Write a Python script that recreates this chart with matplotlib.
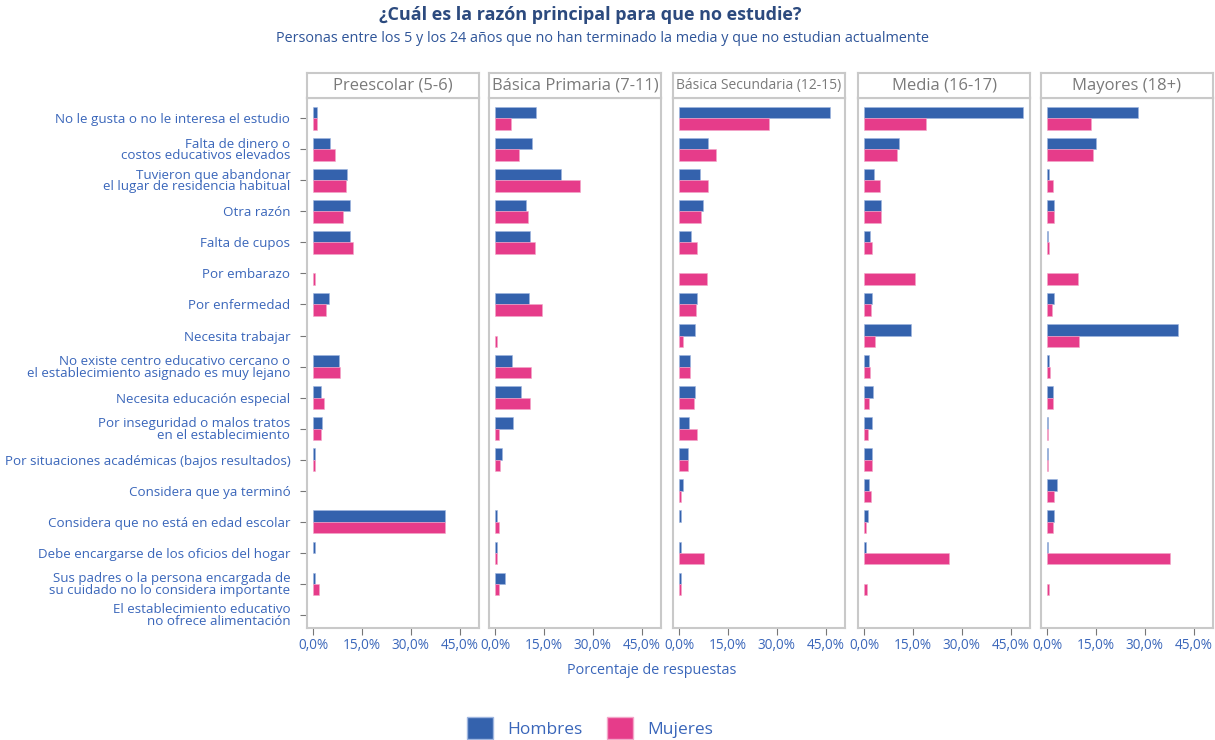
import matplotlib
matplotlib.use("Agg")
import matplotlib.pyplot as plt
import numpy as np
from matplotlib.patches import Patch

plt.rcParams['font.family'] = ['Open Sans', 'DejaVu Sans']

reasons = [
    "No le gusta o no le interesa el estudio",
    "Falta de dinero o\ncostos educativos elevados",
    "Tuvieron que abandonar\nel lugar de residencia habitual",
    "Otra razón",
    "Falta de cupos",
    "Por embarazo",
    "Por enfermedad",
    "Necesita trabajar",
    "No existe centro educativo cercano o\nel establecimiento asignado es muy lejano",
    "Necesita educación especial",
    "Por inseguridad o malos tratos\nen el establecimiento",
    "Por situaciones académicas (bajos resultados)",
    "Considera que ya terminó",
    "Considera que no está en edad escolar",
    "Debe encargarse de los oficios del hogar",
    "Sus padres o la persona encargada de\nsu cuidado no lo considera importante",
    "El establecimiento educativo\nno ofrece alimentación",
]
groups = ["Preescolar (5-6)", "Básica Primaria (7-11)", "Básica Secundaria (12-15)",
          "Media (16-17)", "Mayores (18+)"]

hombres_pre = [1.2, 5.1, 10.2, 11.4, 11.4, 0, 4.8, 0, 7.8, 2.3, 2.5, 0.4, 0, 40.6, 0.6, 0.6, 0]
mujeres_pre = [1.2, 6.5, 10.1, 9.0, 12.2, 0.4, 3.9, 0, 8.1, 3.1, 2.2, 0.4, 0, 40.5, 0, 1.6, 0]
hombres_pri = [12.5, 11.2, 20.1, 9.5, 10.7, 0, 10.4, 0, 5.1, 8.0, 5.4, 2.1, 0, 0.4, 0.4, 2.8, 0]
mujeres_pri = [4.8, 7.2, 25.9, 9.9, 12.2, 0, 14.3, 0.4, 11.0, 10.7, 1.1, 1.5, 0, 1.1, 0.4, 1.1, 0]
hombres_sec = [46.3, 8.7, 6.4, 7.1, 3.6, 0, 5.4, 4.7, 3.3, 4.7, 3.0, 2.7, 1.0, 0.5, 0.4, 0.6, 0]
mujeres_sec = [27.5, 11.1, 8.8, 6.7, 5.4, 8.4, 5.1, 1.1, 3.3, 4.4, 5.4, 2.7, 0.6, 0, 7.6, 0.6, 0]
hombres_med = [48.8, 10.7, 2.9, 5.2, 1.7, 0, 2.2, 14.4, 1.4, 2.6, 2.2, 2.4, 1.5, 1.1, 0.5, 0, 0]
mujeres_med = [19.1, 10.0, 4.9, 5.2, 2.4, 15.6, 2.1, 3.2, 1.6, 1.3, 1.1, 2.4, 2.1, 0.4, 26.0, 0.9, 0]
hombres_may = [27.8, 15.0, 0.5, 1.9, 0.3, 0, 2.1, 40.3, 0.4, 1.6, 0.3, 0.2, 2.8, 1.9, 0.3, 0, 0]
mujeres_may = [13.5, 14.1, 1.6, 1.9, 0.5, 9.3, 1.5, 9.6, 0.7, 1.6, 0.3, 0.2, 2.1, 1.6, 37.6, 0.5, 0]

hombres = [hombres_pre, hombres_pri, hombres_sec, hombres_med, hombres_may]
mujeres = [mujeres_pre, mujeres_pri, mujeres_sec, mujeres_med, mujeres_may]
xticks = [0, 15, 30, 45]
xticklabels = ["0,0%", "15,0%", "30,0%", "45,0%"]

BLUE = "#3462ad"
PINK = "#e63c8a"
TXT = "#3a66ba"
GRID = "#c9c9c9"

W, H = 1215, 740
fig = plt.figure(figsize=(12.15, 7.4), dpi=100)
lefts = [307, 489, 673, 858, 1041]
pw = 172
top, bot, hdr = 98, 628, 25
y = np.arange(len(reasons))
bh = 0.365

for i, g in enumerate(groups):
    ax = fig.add_axes([lefts[i]/W, (H-bot)/H, pw/W, (bot-top)/H])
    hv = np.array(hombres[i]); mv = np.array(mujeres[i])
    ax.barh(y - bh/2, hv, height=bh, color=BLUE, edgecolor="#9fb6e0",
            linewidth=np.where(hv > 0, 0.4, 0))
    ax.barh(y + bh/2, mv, height=bh, color=PINK, edgecolor="#f3a6c8",
            linewidth=np.where(mv > 0, 0.4, 0))
    ax.set_xlim(-2, 51)
    ax.set_ylim(16.42, -0.65)
    ax.set_xticks(xticks)
    ax.set_xticklabels(xticklabels)
    ax.tick_params(axis='x', colors="#777777", labelcolor=TXT, labelsize=9.8, length=5, pad=2)
    if i == 0:
        ax.set_yticks(y)
        ax.set_yticklabels(reasons, linespacing=0.85)
        ax.tick_params(axis='y', colors="#777777", labelcolor=TXT, labelsize=9.6, length=5, pad=7)
    else:
        ax.set_yticks([])
    for s in ax.spines.values():
        s.set_color(GRID); s.set_linewidth(1.5)

    hx = fig.add_axes([lefts[i]/W, (H-top)/H, pw/W, hdr/H])
    hx.set_xticks([]); hx.set_yticks([])
    for s in hx.spines.values():
        s.set_color(GRID); s.set_linewidth(1.5)
    fs = 10 if i == 2 else 12
    hx.text(0.5, 0.5, g, ha='center', va='center', color="#7a7a7a", fontsize=fs, transform=hx.transAxes)

fig.text(590/W, 1-15/H, "¿Cuál es la razón principal para que no estudie?", ha='center', va='center',
         fontsize=13, fontweight='bold', color="#2c4a7e")
fig.text(603/W, 1-38/H, "Personas entre los 5 y los 24 años que no han terminado la media y que no estudian actualmente",
         ha='center', va='center', fontsize=10.4, color="#2f5599")
fig.text(652/W, 1-670/H, "Porcentaje de respuestas", ha='center', va='center', fontsize=10.4, color=TXT)

handles = [Patch(facecolor=BLUE, edgecolor="#9fb6e0"), Patch(facecolor=PINK, edgecolor="#f3a6c8")]
fig.legend(handles, ["Hombres", "Mujeres"], loc='center', bbox_to_anchor=(590/W, 1-728/H), ncol=2,
           frameon=False, fontsize=12.5, labelcolor=TXT, handlelength=1.5, handleheight=1.5,
           columnspacing=1.4, handletextpad=0.8)

fig.savefig("out.png", dpi=100)
